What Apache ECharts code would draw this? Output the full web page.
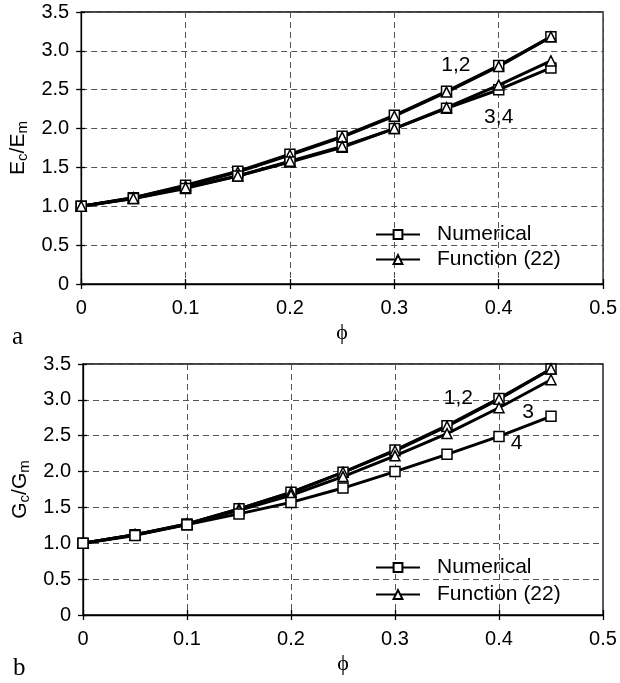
<!DOCTYPE html>
<html>
<head>
<meta charset="utf-8">
<script src="https://cdn.jsdelivr.net/npm/echarts@6/dist/echarts.min.js"></script>
<style>
html,body{margin:0;padding:0;background:#fff;}
#chart{width:620px;height:683px;}
</style>
</head>
<body>
<div id="chart"></div>
<script>
// ---- data ----
const phi = [0, 0.05, 0.1, 0.15, 0.2, 0.25, 0.3, 0.35, 0.4, 0.45];
// panel a : Ec/Em
const ecNum12 = [1.00, 1.11, 1.27, 1.45, 1.67, 1.90, 2.17, 2.48, 2.81, 3.18];
const ecFun12 = [1.00, 1.11, 1.26, 1.44, 1.66, 1.89, 2.16, 2.47, 2.80, 3.18];
const ecNum34 = [1.00, 1.10, 1.23, 1.39, 1.57, 1.76, 2.00, 2.26, 2.50, 2.78];
const ecFun34 = [1.00, 1.10, 1.24, 1.39, 1.58, 1.77, 2.00, 2.27, 2.56, 2.87];
// panel b : Gc/Gm
const gcNum12 = [1.00, 1.12, 1.27, 1.48, 1.71, 1.99, 2.30, 2.64, 3.02, 3.43];
const gcFun12 = [1.00, 1.12, 1.27, 1.48, 1.71, 1.99, 2.29, 2.63, 3.01, 3.43];
const gcFun3  = [1.00, 1.12, 1.26, 1.46, 1.67, 1.93, 2.22, 2.53, 2.89, 3.28];
const gcNum4  = [1.00, 1.11, 1.26, 1.41, 1.57, 1.77, 2.00, 2.24, 2.49, 2.77];
// curve annotations [phi, value, text]
const notesA = [[0.359, 2.82, '1,2'], [0.400, 2.14, '3,4']];
const notesB = [[0.361, 3.03, '1,2'], [0.428, 2.83, '3'], [0.417, 2.40, '4']];
// tick labels
const xTickLabels = ['0', '0.1', '0.2', '0.3', '0.4', '0.5'];
const yTickLabels = ['0', '0.5', '1.0', '1.5', '2.0', '2.5', '3.0', '3.5'];
const legendNames = ['Numerical', 'Function (22)'];

// ---- chart ----
const FONT = '"Liberation Sans", Arial, Helvetica, sans-serif';
const SERIF = '"Liberation Serif", "Times New Roman", serif';
const pair = (ys) => phi.map((x, i) => [x, ys[i]]);

function xAxisFor(gi) {
  return {
    gridIndex: gi, type: 'value', min: 0, max: 0.5, interval: 0.1,
    name: 'ϕ', nameLocation: 'middle', nameGap: 38,
    nameTextStyle: {fontFamily: SERIF, fontSize: 22, color: '#000'},
    axisLine: {onZero: false, lineStyle: {color: '#000', width: 1.3}},
    axisTick: {show: true, length: 5, lineStyle: {color: '#000', width: 1.3}},
    axisLabel: {
      margin: 14, fontFamily: FONT, fontSize: 20, color: '#000',
      formatter: (v) => xTickLabels[Math.round(v * 10)]
    },
    splitLine: {show: true, lineStyle: {color: '#555', width: 1, type: [6, 4]}}
  };
}
function xInner(gi) {
  return {
    gridIndex: gi, type: 'value', min: 0, max: 0.5, interval: 0.1, position: 'bottom',
    axisLine: {show: false}, axisLabel: {show: false}, splitLine: {show: false},
    axisTick: {show: true, inside: true, length: 5, lineStyle: {color: '#000', width: 1.3}}
  };
}
function yAxisFor(gi, letter) {
  return {
    gridIndex: gi, type: 'value', min: 0, max: 3.5, interval: 0.5,
    name: '{n|' + letter + '}{s|c}{n|/' + letter + '}{s|m}',
    nameLocation: 'middle', nameGap: 50, nameRotate: 90,
    nameTextStyle: {
      color: '#000',
      rich: {
        n: {fontFamily: FONT, fontSize: 21, color: '#000'},
        s: {fontFamily: FONT, fontSize: 15, color: '#000', padding: [9, 0, 0, 0]}
      }
    },
    axisLine: {show: true, lineStyle: {color: '#000', width: 1.3}},
    axisTick: {show: true, length: 5, lineStyle: {color: '#000', width: 1.3}},
    axisLabel: {
      margin: 12, fontFamily: FONT, fontSize: 20, color: '#000',
      formatter: (v) => yTickLabels[Math.round(v * 2)]
    },
    splitLine: {show: true, lineStyle: {color: '#555', width: 1, type: [6, 4]}}
  };
}
function yInner(gi) {
  return {
    gridIndex: gi, type: 'value', min: 0, max: 3.5, interval: 0.5, position: 'left',
    axisLine: {show: false}, axisLabel: {show: false}, splitLine: {show: false},
    axisTick: {show: true, inside: true, length: 4, lineStyle: {color: '#000', width: 1.3}}
  };
}
function lineSeries(gi, name, ys, symbol, size) {
  return {
    type: 'line', name: name, xAxisIndex: gi, yAxisIndex: gi,
    data: pair(ys), symbol: symbol, symbolSize: size, showAllSymbol: true,
    lineStyle: {color: '#000', width: 3},
    itemStyle: {color: '#fff', borderColor: '#000', borderWidth: 1.5},
    emphasis: {disabled: true}, animation: false, z: 3
  };
}
function noteSeries(gi, notes) {
  return {
    type: 'scatter', xAxisIndex: gi, yAxisIndex: gi, symbolSize: 1,
    itemStyle: {opacity: 0},
    data: notes.map(n => ({value: [n[0], n[1]], label: {formatter: n[2]}})),
    label: {show: true, position: 'inside', fontFamily: FONT, fontSize: 21, color: '#000', opacity: 1},
    emphasis: {disabled: true}, animation: false, silent: true, z: 5
  };
}
function legendFor(top, gap) {
  return {
    orient: 'vertical', left: 370, top: top, itemGap: gap,
    itemWidth: 44, itemHeight: 11, data: legendNames,
    selectedMode: false,
    textStyle: {fontFamily: FONT, fontSize: 21, color: '#000', padding: [0, 0, 0, 12]}
  };
}

const chart = echarts.init(document.getElementById('chart'), null, {renderer: 'canvas'});
chart.setOption({
  animation: false,
  backgroundColor: '#fff',
  title: [
    {text: 'a', left: 7, top: 320, textStyle: {fontFamily: SERIF, fontSize: 25, fontWeight: 'normal', color: '#000'}},
    {text: 'b', left: 8, top: 651, textStyle: {fontFamily: SERIF, fontSize: 25, fontWeight: 'normal', color: '#000'}}
  ],
  grid: [
    {left: 81, top: 12, width: 523, height: 272, show: true, borderColor: '#000', borderWidth: 1.3, backgroundColor: 'transparent'},
    {left: 83, top: 364, width: 520, height: 251, show: true, borderColor: '#000', borderWidth: 1.3, backgroundColor: 'transparent'}
  ],
  legend: [legendFor(219, 4), legendFor(552, 6)],
  xAxis: [xAxisFor(0), xAxisFor(1), xInner(0), xInner(1)],
  yAxis: [yAxisFor(0, 'E'), yAxisFor(1, 'G'), yInner(0), yInner(1)],
  series: [
    lineSeries(0, 'Numerical', ecNum12, 'rect', 10),
    lineSeries(0, 'Function (22)', ecFun12, 'triangle', 10),
    lineSeries(0, 'Numerical', ecNum34, 'rect', 10),
    lineSeries(0, 'Function (22)', ecFun34, 'triangle', 10),
    noteSeries(0, notesA),
    lineSeries(1, 'Numerical', gcNum12, 'rect', 10),
    lineSeries(1, 'Function (22)', gcFun12, 'triangle', 10),
    lineSeries(1, 'Function (22)', gcFun3, 'triangle', 10),
    lineSeries(1, 'Numerical', gcNum4, 'rect', 10),
    noteSeries(1, notesB)
  ]
});
</script>
</body>
</html>
